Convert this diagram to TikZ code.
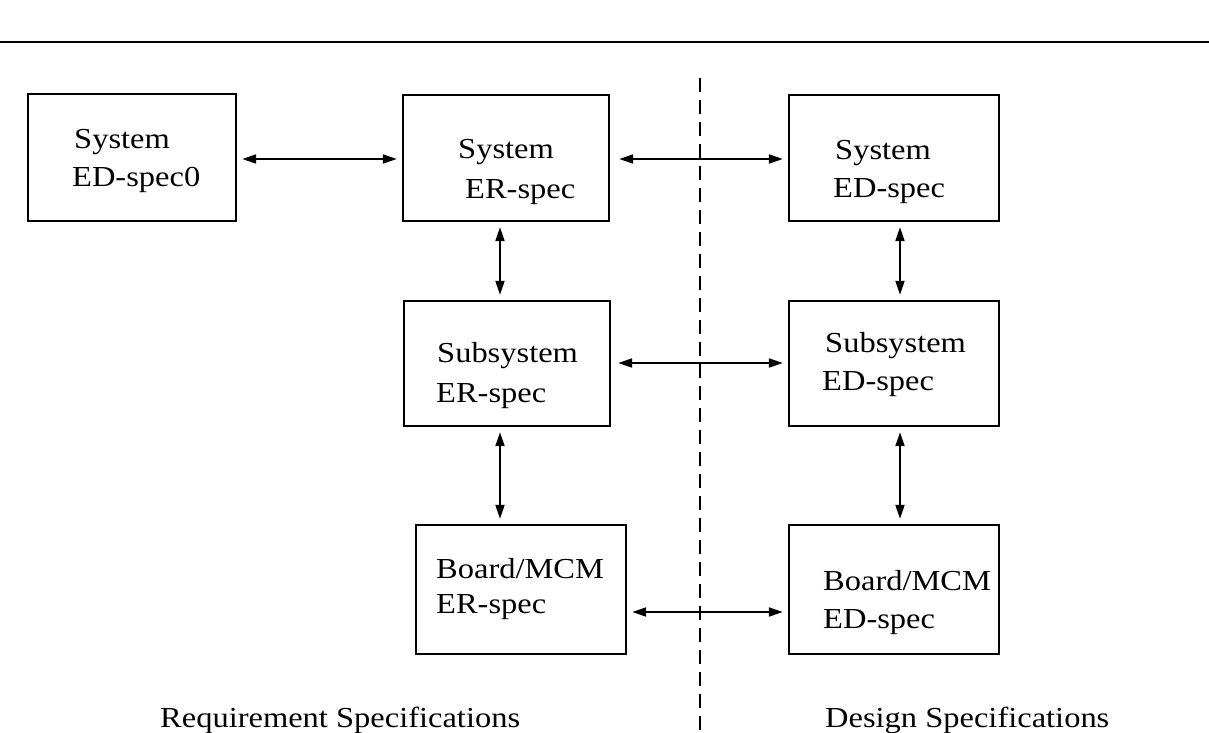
\documentclass[tikz,border=0pt]{standalone}
\usepackage{fontspec}
\setmainfont{Liberation Serif}[FakeStretch=1.12]
\usetikzlibrary{arrows.meta}
\begin{document}
\begin{tikzpicture}[x=1pt,y=-1pt,
  box/.style={draw, line width=2.4pt, inner sep=0pt},
  lbl/.style={anchor=base west, inner sep=0pt, font=\fontsize{29}{29}\selectfont},
  sidelabel/.style={anchor=base west, inner sep=0pt, font=\fontsize{29}{29}\selectfont},
  tipend/.tip={Triangle[length=14pt,width=9pt]},
  biarrow/.style={line width=2pt, tipend-tipend, shorten <=5pt, shorten >=5pt},
  divider/.style={line width=1.6pt, dash pattern=on 14pt off 8pt},
]
\useasboundingbox (0,0) rectangle (1209,732);
\coordinate (ruleL) at (0,42);
\coordinate (ruleR) at (1209,42);
\draw[line width=2pt] (ruleL) -- (ruleR);

\coordinate (dtop) at (700,78);
\coordinate (dbot) at (700,732);
\draw[divider] (dtop) -- (dbot);

% boxes
\node[box, minimum width=208pt, minimum height=127pt] (sysEDz) at (132,157.5) {};
\node[box, minimum width=206pt, minimum height=126pt] (sysER) at (506,158) {};
\node[box, minimum width=210pt, minimum height=126pt] (sysED) at (894,158) {};
\node[box, minimum width=206pt, minimum height=125pt] (subER) at (507,363.5) {};
\node[box, minimum width=210pt, minimum height=125pt] (subED) at (894,363.5) {};
\node[box, minimum width=210pt, minimum height=129pt] (brdER) at (521,589.5) {};
\node[box, minimum width=210pt, minimum height=129pt] (brdED) at (894,589.5) {};

% texts
\node[lbl] (t1a) at (74,148) {System};
\node[lbl] (t1b) at (72,186) {ED-spec0};
\node[lbl] (t2a) at (458,158) {System};
\node[lbl] (t2b) at (465,198) {ER-spec};
\node[lbl] (t3a) at (835,159) {System};
\node[lbl] (t3b) at (833,197) {ED-spec};
\node[lbl] (t4a) at (437,362) {Subsystem};
\node[lbl] (t4b) at (436,402) {ER-spec};
\node[lbl] (t5a) at (825,352) {Subsystem};
\node[lbl] (t5b) at (822,390) {ED-spec};
\node[lbl] (t6a) at (436,578) {Board/MCM};
\node[lbl] (t6b) at (436,613) {ER-spec};
\node[lbl] (t7a) at (823,590) {Board/MCM};
\node[lbl] (t7b) at (823,628) {ED-spec};

\node[sidelabel] (reqlbl) at (160,727) {Requirement Specifications};
\node[sidelabel] (deslbl) at (825,727) {Design Specifications};

% connectors
\coordinate (r1) at (0,159);
\coordinate (r2) at (0,363);
\coordinate (r3) at (0,612);
\coordinate (colL) at (500,0);
\coordinate (colR) at (900,0);
\draw[biarrow] (sysEDz.east |- r1) -- (sysER.west |- r1);
\draw[biarrow, shorten <=9pt] (sysER.east |- r1) -- (sysED.west |- r1);
\draw[biarrow, shorten <=7pt] (subER.east |- r2) -- (subED.west |- r2);
\draw[biarrow] (brdER.east |- r3) -- (brdED.west |- r3);
\draw[biarrow] (sysER.south -| colL) -- (subER.north -| colL);
\draw[biarrow] (subER.south -| colL) -- (brdER.north -| colL);
\draw[biarrow] (sysED.south -| colR) -- (subED.north -| colR);
\draw[biarrow] (subED.south -| colR) -- (brdED.north -| colR);
\end{tikzpicture}
\end{document}
